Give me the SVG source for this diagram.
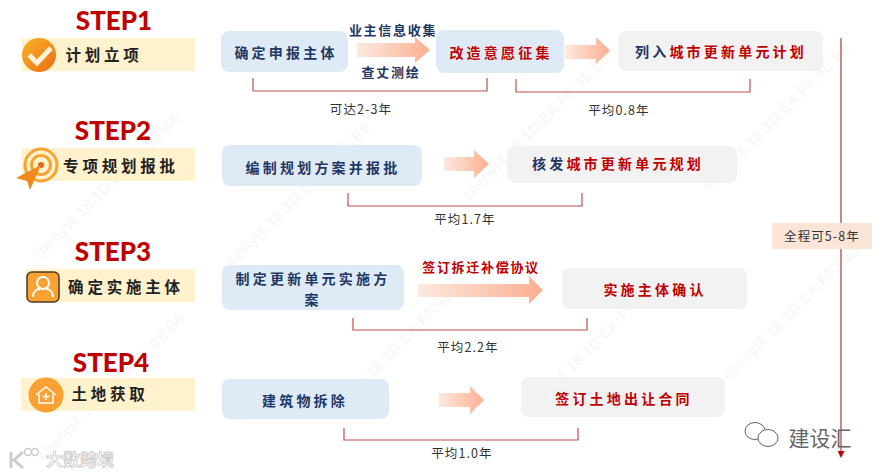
<svg xmlns="http://www.w3.org/2000/svg" width="881" height="476" viewBox="0 0 881 476">
<style>
text{font-family:"Noto Sans CJK SC","Liberation Sans",sans-serif;text-anchor:middle}
.step{font-family:Lato,"Open Sans",sans-serif;font-weight:900;font-size:26px;fill:#c00000}
.label{font-size:15.5px;font-weight:700;fill:#222;letter-spacing:3.8px}
.band{fill:#fff2cc}
.blue{fill:#deebf7}
.gray{fill:#f2f2f2}
.t{font-size:14px;font-weight:700;letter-spacing:3.2px;fill:#1f3864}
.n{font-size:12.500px;fill:#333;letter-spacing:1.100px}
.e{font-size:13px;font-weight:700;letter-spacing:1.700px;fill:#1f3864}
.br{fill:none;stroke:#c0504d;stroke-width:1.2}
.ln{fill:none;stroke:#b03a3a;stroke-width:1.2}
.wm{font-family:"Liberation Sans",sans-serif;font-size:15px;fill:#f6f6f6;letter-spacing:.5px}
.or{fill:#f9a233}
.red{fill:#c00000}
</style>
<defs>
<linearGradient id="g"><stop offset="0" stop-color="#fde9e0"/><stop offset="1" stop-color="#fbaf8f"/></linearGradient>
<linearGradient id="o" x1="0" y1="0" x2="1" y2="1"><stop offset="0" stop-color="#fbb62a"/><stop offset="1" stop-color="#ec6a12"/></linearGradient>
</defs>
<rect width="881" height="476" fill="#fff"/>
<g id="watermarks">
<text class="wm" transform="translate(110 190) rotate(-45)">chenyt4 18:1D:EA:FF:9E:B6</text>
<text class="wm" transform="translate(300 200) rotate(-45)">chenyt4 18:1D:EA:FF:9E:B6</text>
<text class="wm" transform="translate(540 130) rotate(-45)">chenyt4 18:1D:EA:FF:9E:B6</text>
<text class="wm" transform="translate(780 120) rotate(-45)">chenyt4 18:1D:EA:FF:9E:B6</text>
<text class="wm" transform="translate(115 390) rotate(-45)">chenyt4 18:1D:EA:FF:9E:B6</text>
<text class="wm" transform="translate(400 350) rotate(-45)">chenyt4 18:1D:EA:FF:9E:B6</text>
<text class="wm" transform="translate(600 345) rotate(-45)">chenyt4 18:1D:EA:FF:9E:B6</text>
<text class="wm" transform="translate(800 310) rotate(-45)">chenyt4 18:1D:EA:FF:9E:B6</text>
</g>
<g id="connectors">
<path class="br" d="M253 78V91H487V78"/>
<path class="br" d="M516 79V92H750V79"/>
<path class="br" d="M348 193V206H582V193"/>
<path class="br" d="M353 318V330H587V318"/>
<path class="br" d="M344 428V440H578V428"/>
<path class="ln" d="M841 38V223"/>
<path class="ln" d="M841 249V452"/>
<path class="red" d="M837.500 451H844.500L841 458Z"/>
<path fill="url(#g)" d="M357 43H415V37L430 50L415 63V57H357Z"/>
<path fill="url(#g)" d="M565 45H596V37L610 50.500L596 64V59H565Z"/>
<path fill="url(#g)" d="M444 157H474V150L489 164L474 178V171H444Z"/>
<path fill="url(#g)" d="M418 284H529V276L543 290L529 304V297H418Z"/>
<path fill="url(#g)" d="M439 393H470V386L484 400L470 414V407H439Z"/>
</g>
<g id="step1">
<text class="step" x="114" y="30">STEP1</text>
<rect class="band" x="22" y="38" width="173" height="33"/>
<circle cx="39" cy="55" r="17" fill="url(#o)"/>
<path d="M29 55L37 63L51 48" fill="none" stroke="#fff2d8" stroke-width="5"/>
<text class="label" x="104" y="61">计划立项</text>
</g>
<g id="step2">
<text class="step" x="113" y="140">STEP2</text>
<rect class="band" x="22" y="148" width="173" height="33"/>
<circle cx="41" cy="165" r="16" fill="#fff2cc" stroke="#f9a233" stroke-width="3"/>
<circle cx="41" cy="165" r="9.500" fill="none" stroke="#f9a233" stroke-width="3"/>
<circle cx="41" cy="165" r="3" fill="#e8641b"/>
<path d="M16 178L41 165L30 190L27 181Z" fill="#f08a1d"/>
<text class="label" x="121" y="172">专项规划报批</text>
</g>
<g id="step3">
<text class="step" x="113" y="261">STEP3</text>
<rect class="band" x="26" y="269" width="169" height="33"/>
<rect x="27" y="272" width="32" height="30" rx="5" fill="#f9a233" stroke="#4a3a28" stroke-width="1.500"/>
<circle cx="43" cy="283" r="6" fill="none" stroke="#fff" stroke-width="2"/>
<path d="M33 297C33 291 37 289 40 289M53 297C53 291 49 289 46 289" fill="none" stroke="#fff" stroke-width="2"/>
<text class="label" x="126" y="293">确定实施主体</text>
</g>
<g id="step4">
<text class="step" x="111" y="372">STEP4</text>
<rect class="band" x="21" y="378" width="174" height="33"/>
<circle cx="46" cy="395" r="17.500" class="or"/>
<path d="M36 395L46 387L56 395M39 394V403H53V394M46 393V400M42.500 396.500H49.500" fill="none" stroke="#fff" stroke-width="1.500"/>
<text class="label" x="110" y="400">土地获取</text>
</g>
<g id="box1">
<rect class="blue" x="221" y="31" width="127" height="41" rx="8"/>
<text class="t" x="286" y="58">确定申报主体</text>
</g>
<g id="edge1a"><text class="e" x="393" y="35">业主信息收集</text></g>
<g id="edge1b"><text class="e" x="391" y="77">查丈测绘</text></g>
<g id="box2">
<rect class="blue" x="436" y="30" width="128" height="43" rx="8"/>
<text class="t" x="501" y="58" style="fill:#c00000">改造意愿征集</text>
</g>
<g id="box3">
<rect class="gray" x="618" y="31" width="205" height="40" rx="8"/>
<text class="t" x="721" y="57">列入<tspan style="fill:#c00000">城市更新单元计划</tspan></text>
</g>
<g id="note1"><text class="n" x="361" y="114">可达2-3年</text></g>
<g id="note2"><text class="n" x="619" y="115">平均0.8年</text></g>
<g id="box4">
<rect class="blue" x="222" y="145" width="200" height="41" rx="8"/>
<text class="t" x="323" y="173">编制规划方案并报批</text>
</g>
<g id="box5">
<rect class="gray" x="507" y="146" width="230" height="37" rx="8"/>
<text class="t" x="618" y="169">核发<tspan style="fill:#c00000">城市更新单元规划</tspan></text>
</g>
<g id="note3"><text class="n" x="465" y="224">平均1.7年</text></g>
<g id="box6">
<rect class="blue" x="222" y="265" width="182" height="45" rx="8"/>
<text class="t" x="313" y="284">制定更新单元实施方</text>
<text class="t" x="313" y="305">案</text>
</g>
<g id="edge3"><text class="e" x="481" y="272" style="fill:#c00000">签订拆迁补偿协议</text></g>
<g id="box7">
<rect class="gray" x="562" y="268" width="185" height="41" rx="8"/>
<text class="t" x="655" y="295" style="fill:#c00000">实施主体确认</text>
</g>
<g id="note4"><text class="n" x="468" y="352">平均2.2年</text></g>
<g id="box8">
<rect class="blue" x="222" y="379" width="167" height="40" rx="8"/>
<text class="t" x="305" y="406">建筑物拆除</text>
</g>
<g id="box9">
<rect class="gray" x="521" y="377" width="204" height="40" rx="8"/>
<text class="t" x="624" y="404" style="fill:#c00000">签订土地出让合同</text>
</g>
<g id="note5"><text class="n" x="462" y="458">平均1.0年</text></g>
<g id="total">
<rect x="772" y="223" width="100" height="26" fill="#fbe5d6"/>
<text class="n" x="822" y="241">全程可5-8年</text>
</g>
<g id="brand">
<ellipse cx="755" cy="431" rx="10" ry="8.500" fill="#fff" stroke="#666" stroke-width="1"/>
<ellipse cx="768" cy="438" rx="10" ry="8.500" fill="#fff" stroke="#666" stroke-width="1"/>
<text x="820" y="446" style="font-size:21px;fill:#666">建设汇</text>
</g>
<g id="logo">
<text x="80" y="466" style="font-size:17px;font-weight:700;fill:#fff;stroke:#ccc;stroke-width:.8">大数跨境</text>
<path d="M11 452V468M23 452L14 460L23 468" fill="none" stroke="#ccc" stroke-width="3"/>
<circle cx="28" cy="452" r="3.500" fill="none" stroke="#ccc" stroke-width="1.500"/>
<circle cx="35" cy="452" r="3.500" fill="none" stroke="#ccc" stroke-width="1.500"/>
</g>
</svg>
